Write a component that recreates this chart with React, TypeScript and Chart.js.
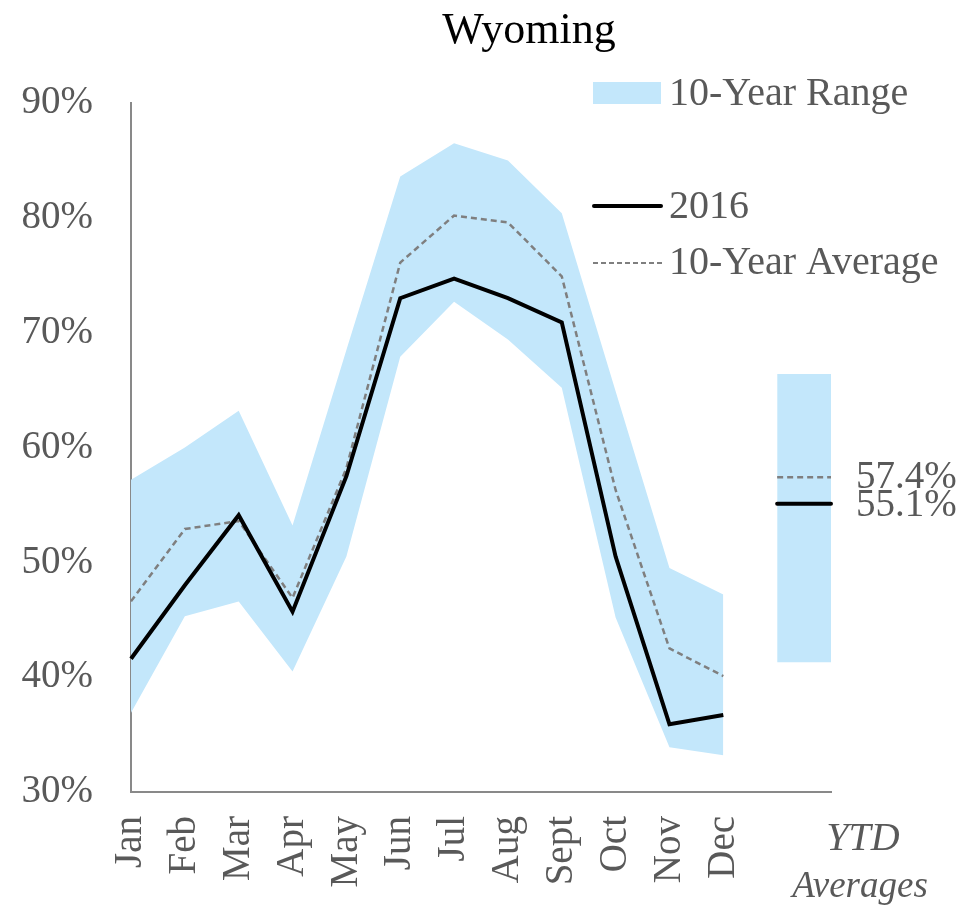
import React, { useEffect, useRef } from "react";
import { Chart, registerables } from "chart.js";

Chart.register(...registerables);

const months = ["Jan", "Feb", "Mar", "Apr", "May", "Jun", "Jul", "Aug", "Sept", "Oct", "Nov", "Dec"];
const rangeHigh = [57.2, 60.0, 63.2, 53.2, 68.5, 83.6, 86.5, 85.0, 80.4, 64.9, 49.5, 47.2];
const rangeLow = [36.9, 45.3, 46.6, 40.5, 50.5, 67.9, 72.7, 69.4, 65.2, 45.2, 33.9, 33.2];
const values2016 = [41.6, 48.0, 54.1, 45.7, 57.5, 73.0, 74.7, 73.0, 70.9, 50.5, 35.9, 36.7];
const avg10 = [46.6, 52.9, 53.6, 46.9, 58.2, 76.1, 80.2, 79.6, 74.9, 56.3, 42.5, 40.1];
const ytdRangeLow = 41.3;
const ytdRangeHigh = 66.4;
const ytd2016 = 55.1;
const ytdAvg = 57.4;
const yTicks = [30, 40, 50, 60, 70, 80, 90];

const FONT = "'Liberation Serif', 'Times New Roman', serif";
const GRAY = "#595959";
const BAND = "rgb(195,231,251)";
const AVG_COLOR = "#7f7f7f";

export default function App() {
  const ref = useRef<HTMLCanvasElement | null>(null);

  useEffect(() => {
    if (!ref.current) return;
    const labels = [...months, "", ""];
    const pad = (arr: number[]) => [...arr, null, null];
    const ytd = (v: number) => [...months.map(() => null), v, v];

    const overlay = {
      id: "overlay",
      afterDraw(chart: any) {
        const ctx = chart.ctx as CanvasRenderingContext2D;
        const ys = chart.scales.y;
        ctx.save();
        // title
        ctx.fillStyle = "#000";
        ctx.font = `44px ${FONT}`;
        ctx.textAlign = "center";
        ctx.textBaseline = "alphabetic";
        ctx.fillText("Wyoming", 529, 43);

        // legend
        ctx.fillStyle = BAND;
        ctx.fillRect(593, 82, 68, 22);
        ctx.strokeStyle = "#000";
        ctx.lineWidth = 4;
        ctx.lineCap = "round";
        ctx.beginPath();
        ctx.moveTo(594, 206);
        ctx.lineTo(661, 206);
        ctx.stroke();
        ctx.lineCap = "butt";
        ctx.strokeStyle = AVG_COLOR;
        ctx.lineWidth = 2;
        ctx.setLineDash([5, 3]);
        ctx.beginPath();
        ctx.moveTo(593, 263);
        ctx.lineTo(662, 263);
        ctx.stroke();
        ctx.setLineDash([]);

        ctx.fillStyle = GRAY;
        ctx.font = `40px ${FONT}`;
        ctx.textAlign = "left";
        ctx.fillText("10-Year Range", 669, 105);
        ctx.fillText("2016", 669, 218);
        ctx.fillText("10-Year Average", 669, 274);

        // YTD values
        ctx.font = `39px ${FONT}`;
        ctx.fillText(ytdAvg.toFixed(1) + "%", 856, ys.getPixelForValue(ytdAvg) + 11);
        ctx.fillText(ytd2016.toFixed(1) + "%", 856, ys.getPixelForValue(ytd2016) + 12);

        // YTD axis label
        ctx.font = `italic 40px ${FONT}`;
        ctx.textAlign = "center";
        ctx.fillText("YTD", 863, 850);
        ctx.font = `italic 37px ${FONT}`;
        ctx.fillText("Averages", 860, 897);
        ctx.restore();
      },
    };

    const chart = new Chart(ref.current, {
      type: "line",
      data: {
        labels,
        datasets: [
          { data: pad(values2016), borderWidth: 4, borderColor: "#000", pointRadius: 0, fill: false },
          { data: ytd(ytd2016), borderWidth: 4, borderColor: "#000", pointRadius: 0, fill: false, borderCapStyle: "round" },
          { data: pad(avg10), borderWidth: 2.5, borderDash: [6, 4], borderColor: AVG_COLOR, pointRadius: 0, fill: false },
          { data: ytd(ytdAvg), borderWidth: 2.5, borderDash: [6, 4], borderColor: AVG_COLOR, pointRadius: 0, fill: false },
          { data: pad(rangeLow), borderWidth: 0, pointRadius: 0, fill: false, borderColor: "rgba(0,0,0,0)" },
          { data: pad(rangeHigh), borderWidth: 0, pointRadius: 0, fill: "-1", backgroundColor: BAND, borderColor: "rgba(0,0,0,0)" },
          { data: ytd(ytdRangeLow), borderWidth: 0, pointRadius: 0, fill: false, borderColor: "rgba(0,0,0,0)" },
          { data: ytd(ytdRangeHigh), borderWidth: 0, pointRadius: 0, fill: "-1", backgroundColor: BAND, borderColor: "rgba(0,0,0,0)" },
        ] as any,
      },
      options: {
        responsive: false,
        animation: false,
        layout: { padding: { top: 103, right: 132, left: 0, bottom: 0 } },
        plugins: {
          legend: { display: false },
          tooltip: { enabled: false },
          title: { display: false },
          filler: { drawTime: "beforeDatasetsDraw" },
        },
        elements: { line: { tension: 0 } },
        scales: {
          x: {
            type: "category",
            offset: false,
            grid: { display: false, drawTicks: false },
            border: { display: true, color: "#898989", width: 2 },
            ticks: {
              autoSkip: false,
              maxRotation: 90,
              minRotation: 90,
              padding: 24,
              color: GRAY,
              font: { family: FONT, size: 39 },
            },
            afterFit: (s: any) => { s.height = 118; },
          },
          y: {
            min: 30,
            max: 90,
            afterBuildTicks: (s: any) => { s.ticks = yTicks.map((v) => ({ value: v })); },
            grid: { display: false, drawTicks: false },
            border: { display: true, color: "#898989", width: 2 },
            ticks: {
              padding: 38,
              color: GRAY,
              font: { family: FONT, size: 39 },
              callback: (v: any) => `${v}%`,
            },
            afterFit: (s: any) => { s.width = 131; },
          },
        },
      } as any,
      plugins: [overlay],
    });
    return () => chart.destroy();
  }, []);

  return (
    <div style={{ position: "absolute", left: 0, top: 0, width: 963, height: 910, background: "#fff" }}>
      <canvas ref={ref} width={963} height={910} style={{ display: "block" }} />
    </div>
  );
}
